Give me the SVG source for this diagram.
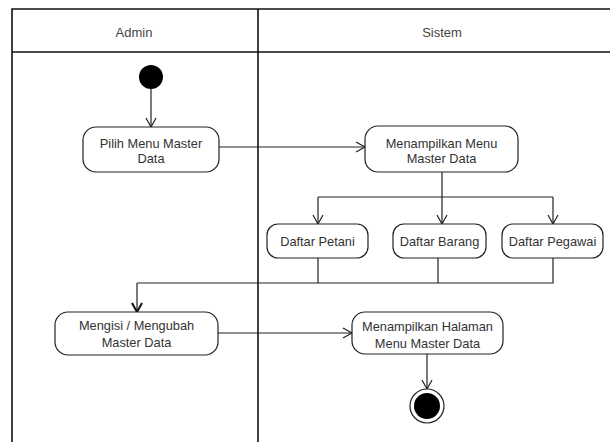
<svg xmlns="http://www.w3.org/2000/svg" width="610" height="442" viewBox="0 0 610 442">
<style>
.lane{fill:none;stroke:#111;stroke-width:1.6}
.act{fill:#fff;stroke:#222;stroke-width:1.2}
.t{font-family:"Liberation Sans",Arial,sans-serif;font-size:12.8px;fill:#333;text-anchor:middle}
.h{font-family:"Liberation Sans",Arial,sans-serif;font-size:13px;fill:#444;text-anchor:middle}
.e{fill:none;stroke:#222;stroke-width:1.2}
</style>
<defs>
<marker id="arr" markerWidth="12" markerHeight="12" refX="10" refY="6" orient="auto" markerUnits="userSpaceOnUse">
<path d="M1,1 L10,6 L1,11" fill="none" stroke="#222" stroke-width="1.2"/>
</marker>
<marker id="arrb" markerWidth="12" markerHeight="12" refX="10" refY="6" orient="auto" markerUnits="userSpaceOnUse">
<path d="M1,1 L10,6 L1,11" fill="none" stroke="#111" stroke-width="2"/>
</marker>
</defs>
<rect width="610" height="442" fill="#fff"/>
<g id="swimlanes">
<path class="lane" d="M12,442 V9 H612 M12,52 H612 M258,9 V442"/>
<text class="h" x="134" y="36.5">Admin</text>
<text class="h" x="442" y="36.5">Sistem</text>
</g>
<g id="connectors">
<path class="e" d="M151,89 V127" marker-end="url(#arr)"/>
<path class="e" d="M219,147 H365" marker-end="url(#arr)"/>
<path class="e" d="M442,172 V224" marker-end="url(#arr)"/>
<path class="e" d="M318,197 H553"/>
<path class="e" d="M318,197 V224" marker-end="url(#arr)"/>
<path class="e" d="M553,197 V224" marker-end="url(#arr)"/>
<path class="e" d="M318,258 V283 M438,258 V283 M553,258 V283 H137"/>
<path class="e" d="M137,283 V312" stroke-width="2" marker-end="url(#arrb)"/>
<path class="e" d="M218,333 H352" marker-end="url(#arr)"/>
<path class="e" d="M427,354 V389" marker-end="url(#arr)"/>
</g>
<g id="start"><circle cx="151" cy="77" r="12" fill="#000"/></g>
<g id="pilih">
<rect class="act" x="83" y="127" width="136" height="45" rx="13"/>
<text class="t" x="151" y="147.5">Pilih Menu Master</text>
<text class="t" x="151" y="162.5">Data</text>
</g>
<g id="menampilkan-menu">
<rect class="act" x="365" y="126" width="153" height="46" rx="13"/>
<text class="t" x="441.5" y="147.5">Menampilkan Menu</text>
<text class="t" x="441.5" y="162.5">Master Data</text>
</g>
<g id="daftar-petani">
<rect class="act" x="267" y="224" width="101" height="34" rx="11"/>
<text class="t" x="317.5" y="245.5">Daftar Petani</text>
</g>
<g id="daftar-barang">
<rect class="act" x="393" y="224" width="93" height="34" rx="11"/>
<text class="t" x="439.5" y="245.5">Daftar Barang</text>
</g>
<g id="daftar-pegawai">
<rect class="act" x="502" y="224" width="101" height="34" rx="11"/>
<text class="t" x="552.5" y="245.5">Daftar Pegawai</text>
</g>
<g id="mengisi">
<rect class="act" x="55" y="312" width="163" height="43" rx="13"/>
<text class="t" x="136.5" y="329.5">Mengisi / Mengubah</text>
<text class="t" x="136.5" y="346.5">Master Data</text>
</g>
<g id="menampilkan-halaman">
<rect class="act" x="352" y="312" width="151" height="42" rx="13"/>
<text class="t" x="427.5" y="330.5">Menampilkan Halaman</text>
<text class="t" x="427.5" y="347.5">Menu Master Data</text>
</g>
<g id="end">
<circle cx="427" cy="406" r="17" fill="#fff" stroke="#222" stroke-width="1.2"/>
<circle cx="427" cy="406" r="13" fill="#000"/>
</g>
</svg>
